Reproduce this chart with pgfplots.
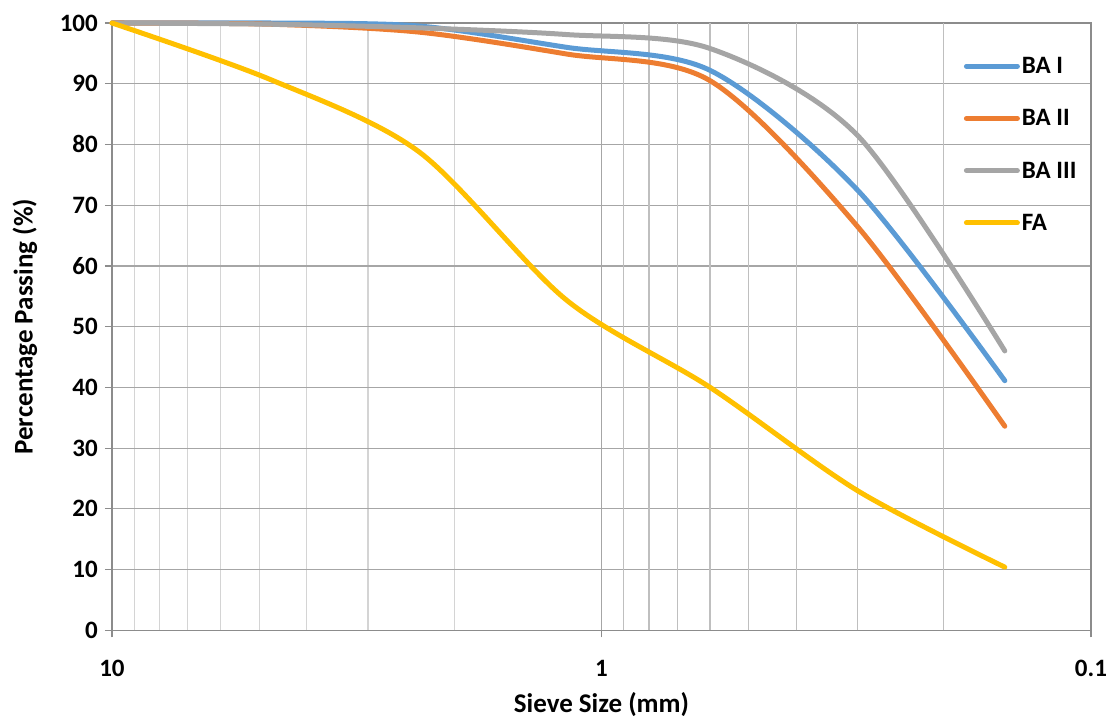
\documentclass[border=0pt]{standalone}
\usepackage{fontspec}
\setmainfont{Carlito}
\usepackage{pgfplots}
\pgfplotsset{compat=1.18}
\definecolor{cBAI}{HTML}{5B9BD5}
\definecolor{cBAII}{HTML}{ED7D31}
\definecolor{cBAIII}{HTML}{A5A5A5}
\definecolor{cFA}{HTML}{FFC000}
\definecolor{gridmaj}{HTML}{A6A6A6}
\definecolor{gridminL}{HTML}{D4D4D4}
\definecolor{gridminR}{HTML}{BFBFBF}
\definecolor{axisgray}{HTML}{8C8C8C}
\newcommand{\chartfont}{\fontsize{25}{30}\selectfont\bfseries}
\newcommand{\labelfont}{\fontsize{27}{32}\selectfont\bfseries}
\begin{document}
\begin{tikzpicture}
\useasboundingbox (-112pt,-87.7pt) rectangle (1000pt,630.3pt);
\begin{axis}[
  scale only axis, width=979pt, height=607.3pt,
  at={(0pt,0pt)}, anchor=south west,
  xmode=log, x dir=reverse, xmin=0.1, xmax=10,
  ymin=0, ymax=100, ytick={0,10,...,100},
  xtick={0.1,1,10}, xticklabels={0.1,1,10},
  minor xtick={2,3,4,5,6,7,8,9},
  extra x ticks={0.2,0.3,0.4,0.5,0.6,0.7,0.8,0.9},
  extra x tick labels={},
  extra x tick style={grid=major, major tick length=0pt,
    major grid style={draw=gridminR, line width=1.2pt}},
  xmajorgrids, xminorgrids, ymajorgrids,
  major grid style={draw=gridmaj, line width=1.2pt},
  minor grid style={draw=gridminL, line width=1.2pt},
  axis line style={draw=axisgray, line width=1.2pt},
  tick align=outside, major tick length=7pt, minor tick length=0pt,
  tick style={draw=axisgray, line width=1.2pt},
  xtick pos=bottom, ytick pos=left,
  /pgf/number format/assume math mode=true,
  tick label style={font=\chartfont},
  yticklabel style={anchor=east, inner sep=0pt, xshift=-7pt},
  xticklabel style={anchor=north, inner sep=0pt, yshift=-23pt},
  label style={font=\labelfont},
  xlabel={Sieve Size (mm)},
  ylabel={Percentage Passing (\%)},
  xlabel style={at={(axis description cs:0.5,-0.123)}, anchor=center},
  ylabel style={at={(axis description cs:-0.0889,0.5)}, anchor=center},
  clip=false,
  legend cell align=left,
  legend image code/.code={\draw[#1, line cap=round] (2.5pt,0pt) -- (53.5pt,0pt);},
  legend style={at={(rel axis cs:0.870,0.947)}, anchor=north west, draw=none, fill=none,
    font=\chartfont, inner sep=0pt, row sep=30.5pt,
    /tikz/every even column/.append style={column sep=5pt}},
]
\addplot[cBAI, line width=5pt, smooth, tension=0.5, line cap=round] coordinates {
  (10,100) (4.75,100) (2.36,99.5) (1.18,96.0) (0.6,92.2) (0.3,72.5) (0.15,41.1)};
\addlegendentry{BA I}
\addplot[cBAII, line width=5pt, smooth, tension=0.5, line cap=round] coordinates {
  (10,100) (4.75,99.8) (2.36,98.5) (1.18,94.9) (0.6,90.5) (0.3,66.5) (0.15,33.6)};
\addlegendentry{BA II}
\addplot[cBAIII, line width=5pt, smooth, tension=0.5, line cap=round] coordinates {
  (10,100) (4.75,99.8) (2.36,99.2) (1.18,98.1) (0.6,95.8) (0.3,81.5) (0.15,46.0)};
\addlegendentry{BA III}
\addplot[cFA, line width=5pt, smooth, tension=0.5, line cap=round] coordinates {
  (10,100) (4.75,90.7) (2.36,78.8) (1.18,54.4) (0.6,40.0) (0.3,23.0) (0.15,10.4)};
\addlegendentry{FA}
\end{axis}
\end{tikzpicture}
\end{document}
